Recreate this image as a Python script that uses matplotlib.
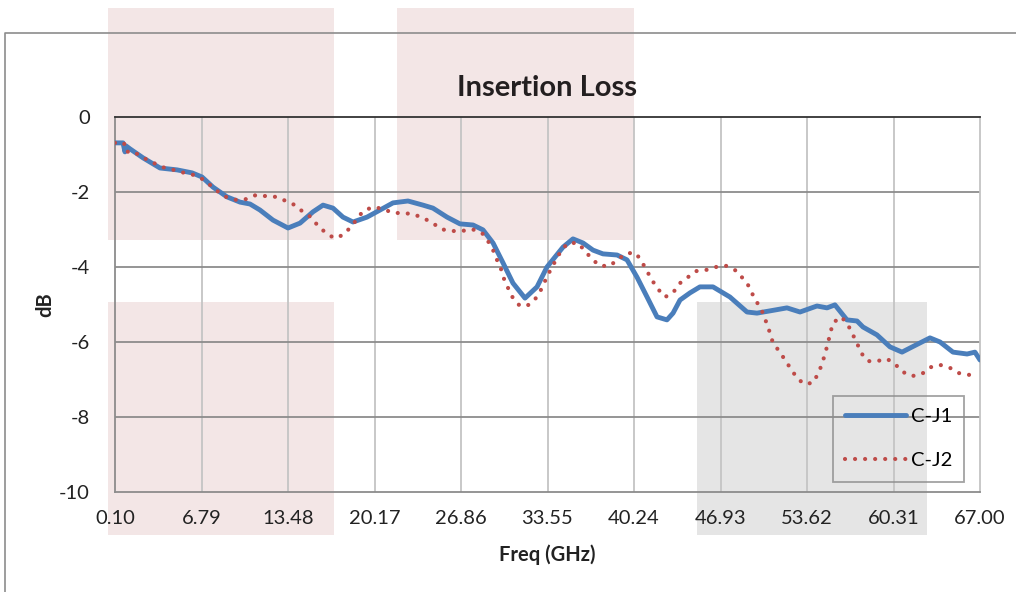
import matplotlib
matplotlib.use("Agg")
import matplotlib.pyplot as plt
from matplotlib.patches import Rectangle
from matplotlib.lines import Line2D

# C-J1 (solid blue)
freq_j1 = [0.10, 0.72, 0.87, 0.95, 1.26, 2.27, 3.58, 4.90, 6.06, 6.83, 7.68, 8.76,
           9.77, 10.54, 11.31, 12.32, 13.48, 14.41, 15.41, 16.19, 16.96, 17.73,
           18.51, 19.59, 20.60, 21.60, 22.76, 23.92, 24.69, 25.78, 26.78, 27.79,
           28.56, 29.34, 30.11, 30.88, 31.81, 32.74, 33.51, 34.75, 35.52, 36.30,
           37.07, 37.84, 38.93, 39.70, 40.47, 41.25, 42.02, 42.79, 43.26, 43.80,
           44.57, 45.34, 46.35, 47.66, 48.98, 49.75, 50.76, 52.07, 53.08, 54.39,
           55.17, 55.78, 56.71, 57.49, 57.95, 59.03, 60.04, 60.97, 61.59, 63.13,
           63.91, 64.91, 66.00, 66.61, 67.00]
db_j1 = [-0.69, -0.69, -0.93, -0.77, -0.85, -1.09, -1.36, -1.41, -1.49, -1.60, -1.87, -2.13,
         -2.27, -2.32, -2.48, -2.75, -2.96, -2.83, -2.53, -2.35, -2.43, -2.67,
         -2.80, -2.67, -2.48, -2.29, -2.24, -2.35, -2.43, -2.67, -2.85, -2.88,
         -3.01, -3.36, -3.89, -4.43, -4.83, -4.53, -4.00, -3.47, -3.25, -3.36,
         -3.55, -3.65, -3.68, -3.81, -4.27, -4.80, -5.33, -5.41, -5.23, -4.88,
         -4.69, -4.53, -4.53, -4.80, -5.20, -5.23, -5.17, -5.09, -5.20, -5.04,
         -5.09, -5.01, -5.41, -5.44, -5.60, -5.81, -6.13, -6.27, -6.16, -5.89,
         -6.00, -6.27, -6.32, -6.27, -6.48]

# C-J2 (dotted red)
freq_j2 = [0.10, 0.80, 0.95, 1.49, 2.19, 2.96, 3.66, 4.43, 5.20, 5.98, 6.75, 7.37,
           7.99, 8.68, 9.46, 10.23, 11.01, 11.78, 12.55, 13.33, 14.02, 14.64,
           15.34, 15.80, 16.42, 17.04, 17.73, 18.35, 18.82, 19.28, 20.05, 20.83,
           21.60, 22.37, 23.15, 23.92, 24.69, 25.31, 26.09, 26.94, 27.71, 28.48,
           28.95, 29.34, 29.64, 29.95, 30.19, 30.50, 30.88, 31.42, 32.12, 32.74,
           33.12, 33.43, 33.82, 34.21, 34.59, 35.14, 35.91, 36.45, 36.99, 37.61,
           38.38, 39.00, 39.70, 40.39, 40.86, 41.25, 41.63, 42.10, 42.64, 43.26,
           43.72, 44.34, 45.03, 45.81, 46.58, 47.36, 48.21, 49.06, 49.44, 49.83,
           50.22, 50.76, 50.99, 51.53, 51.92, 52.38, 52.85, 53.39, 54.08, 54.47,
           54.78, 55.01, 55.24, 55.40, 55.63, 56.25, 56.71, 57.10, 57.49, 57.80,
           58.34, 59.03, 59.81, 60.43, 61.04, 61.74, 62.51, 63.21, 63.91, 64.68,
           65.38, 66.23, 66.85]
db_j2 = [-0.69, -0.69, -0.93, -0.91, -1.07, -1.20, -1.33, -1.39, -1.47, -1.52, -1.63, -1.79,
         -1.97, -2.13, -2.21, -2.19, -2.08, -2.11, -2.13, -2.24, -2.35, -2.53,
         -2.69, -2.91, -3.09, -3.23, -3.15, -2.93, -2.72, -2.51, -2.40, -2.45,
         -2.56, -2.56, -2.59, -2.69, -2.83, -2.99, -3.04, -3.04, -2.99, -3.09,
         -3.31, -3.55, -3.81, -4.05, -4.32, -4.56, -4.83, -5.04, -5.01, -4.80,
         -4.56, -4.32, -4.05, -3.81, -3.57, -3.36, -3.36, -3.57, -3.79, -3.97,
         -3.97, -3.79, -3.63, -3.63, -3.87, -4.11, -4.35, -4.59, -4.80, -4.69,
         -4.45, -4.29, -4.11, -4.08, -4.00, -3.97, -4.11, -4.48, -4.75, -4.99,
         -5.23, -5.76, -6.03, -6.27, -6.48, -6.72, -6.96, -7.12, -7.09, -6.85,
         -6.59, -6.32, -6.03, -5.79, -5.49, -5.33, -5.49, -5.76, -6.03, -6.29,
         -6.51, -6.51, -6.45, -6.59, -6.80, -6.91, -6.85, -6.67, -6.61, -6.69,
         -6.83, -6.88, -6.93]

xticks = [0.10, 6.79, 13.48, 20.17, 26.86, 33.55, 40.24, 46.93, 53.62, 60.31, 67.00]
yticks = [0, -2, -4, -6, -8, -10]

BLUE = "#4a7ebb"
RED = "#be4b48"
W, H = 1016, 592

plt.rcParams["font.family"] = ["Lato", "DejaVu Sans"]
plt.rcParams["axes.unicode_minus"] = False
fig = plt.figure(figsize=(W / 100, H / 100), dpi=100)

def px(x0, y0, x1, y1):
    return (x0 / W, 1 - y1 / H, (x1 - x0) / W, (y1 - y0) / H)

# shaded overlay blocks (behind the plot)
for (x0, y0, x1, y1), c in [((108, 8, 334, 240), "#f3e6e6"),
                            ((397, 8, 634, 240), "#f3e6e6"),
                            ((108, 302, 334, 535), "#f3e6e6"),
                            ((697, 302, 927, 535), "#e5e5e5")]:
    l, b, w, h = px(x0, y0, x1, y1)
    fig.patches.append(Rectangle((l, b), w, h, transform=fig.transFigure,
                                 facecolor=c, edgecolor="none", zorder=-2))

# outer chart border
fig.lines.append(Line2D([5 / W, 5 / W, 1.0], [0, 1 - 33 / H, 1 - 33 / H],
                        transform=fig.transFigure, color="#8c8c8c", lw=1.2, zorder=-1))

ax = fig.add_axes(px(115, 117, 980, 492))
ax.set_facecolor("none")

ax.plot(freq_j1, db_j1, color=BLUE, lw=3.5, solid_joinstyle="round",
        solid_capstyle="round", label="C-J1", zorder=3)
ax.plot(freq_j2, db_j2, color=RED, lw=3.0, linestyle=(0, (0.01, 2.4)),
        dash_capstyle="round", label="C-J2", zorder=4)

ax.set_xlim(0.10, 67.00)
ax.set_ylim(-10, 0)
ax.set_xticks(xticks)
ax.set_xticklabels([f"{t:.2f}" for t in xticks])
ax.set_yticks(yticks)
ax.tick_params(length=0, labelsize=14.5, colors="#222222")
ax.tick_params(axis="y", pad=18)
ax.tick_params(axis="x", pad=13)

for t in xticks[1:-1]:
    ax.axvline(t, color="#c4c4c4", lw=1.3, zorder=1)
for t in yticks[1:-1]:
    ax.axhline(t, color="#8c8c8c", lw=1.3, zorder=1)

ax.spines["top"].set_color("#333333")
ax.spines["top"].set_linewidth(1.3)
ax.spines["right"].set_color("#c4c4c4")
ax.spines["right"].set_linewidth(1.3)
for s in ("left", "bottom"):
    ax.spines[s].set_color("#8c8c8c")
    ax.spines[s].set_linewidth(1.3)

fig.text(547 / W, 1 - 88 / H, "Insertion Loss", ha="center", va="center",
         fontsize=21, fontweight="bold", color="#231f20")
fig.text(45 / W, 1 - 305 / H, "dB", ha="center", va="center", rotation=90,
         fontsize=14.5, fontweight="bold", color="#222222")
fig.text(547 / W, 1 - 555 / H, "Freq (GHz)", ha="center", va="center",
         fontsize=14.5, fontweight="bold", color="#222222")

leg = ax.legend(loc="upper left", bbox_to_anchor=(833 / W, 1 - 396 / H),
                bbox_transform=fig.transFigure, borderaxespad=0,
                frameon=True, fancybox=False, fontsize=14.5, handlelength=3.0,
                handletextpad=0.25, labelspacing=1.35, borderpad=0.6)
leg.get_frame().set_facecolor("none")
leg.get_frame().set_edgecolor("#8c8c8c")
leg.get_frame().set_linewidth(1.3)

fig.savefig("out.png", dpi=100)
